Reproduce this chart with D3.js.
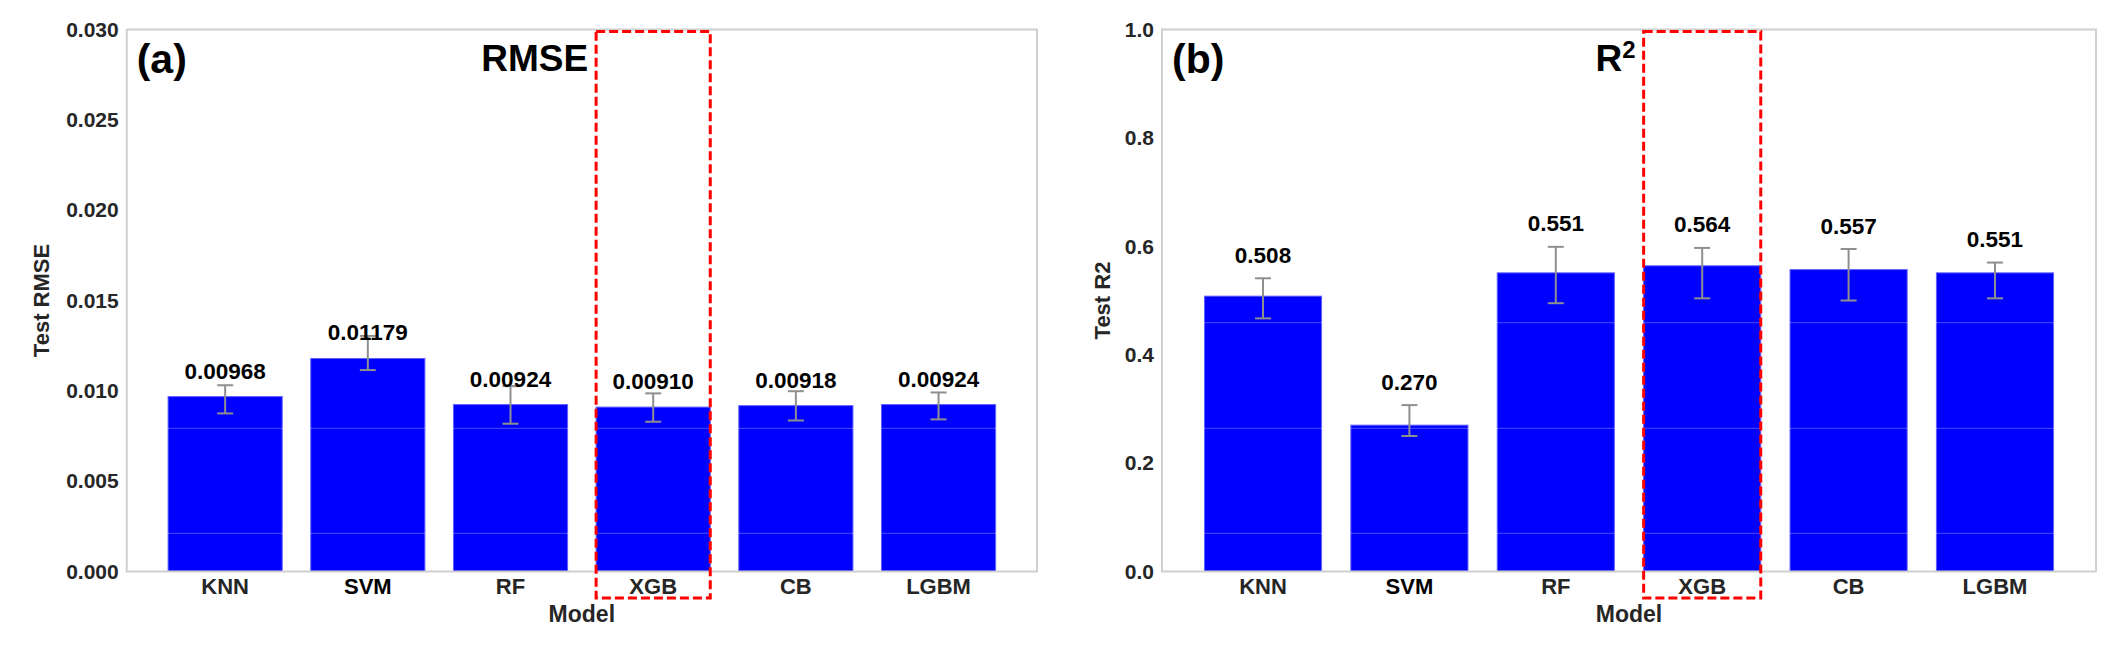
<!DOCTYPE html>
<html>
<head>
<meta charset="utf-8">
<script src="https://cdn.jsdelivr.net/npm/d3@7"></script>
<style>
  body { margin: 0; background: #fff; }
  text { font-family: "Liberation Sans", Arial, sans-serif; font-weight: bold; }
</style>
</head>
<body>
<div id="chart"></div>
<script>
// data
const models = ["KNN", "SVM", "RF", "XGB", "CB", "LGBM"];
const rmse = [0.00968, 0.01179, 0.00924, 0.00910, 0.00918, 0.00924];
const rmseLow = [0.00875, 0.01115, 0.00818, 0.00829, 0.00836, 0.00842];
const rmseHigh = [0.01031, 0.01304, 0.01026, 0.00986, 0.00998, 0.00991];
const r2 = [0.508, 0.270, 0.551, 0.564, 0.557, 0.551];
const r2Low = [0.467, 0.250, 0.495, 0.504, 0.500, 0.504];
const r2High = [0.541, 0.307, 0.599, 0.597, 0.595, 0.570];
const rmseTicks = [0, 0.005, 0.010, 0.015, 0.020, 0.025, 0.030];
const r2Ticks = [0, 0.2, 0.4, 0.6, 0.8, 1.0];
const highlight = "XGB";

const W = 2112, H = 648;

var svg = d3.select("#chart")
  .append("svg")
  .attr("width", W)
  .attr("height", H);

function drawPanel(opts) {
  const top = 29.5, bottom = 571.5;

  const x = d3.scaleBand()
    .domain(models)
    .range([opts.left, opts.right])
    .paddingInner(0.2)
    .paddingOuter(0.29);

  const y = d3.scaleLinear()
    .domain([0, d3.max(opts.ticks)])
    .range([bottom, top]);

  const g = svg.append("g");

  const rows = models.map((m, i) => ({
    model: m, value: opts.values[i], lo: opts.low[i], hi: opts.high[i]
  }));

  // bars
  g.selectAll("rect.bar")
    .data(rows)
    .enter()
    .append("rect")
    .attr("class", "bar")
    .attr("x", d => x(d.model))
    .attr("y", d => y(d.value))
    .attr("width", x.bandwidth())
    .attr("height", d => bottom - y(d.value))
    .style("fill", "#0000ff")
    .style("stroke", "#6060ff")
    .style("stroke-width", 1);

  // faint scan lines that run through the bars in the source image
  g.selectAll("line.scan")
    .data([322.7, 428.3, 533.3])
    .enter()
    .append("line")
    .attr("x1", opts.left).attr("x2", opts.right)
    .attr("y1", d => d).attr("y2", d => d)
    .style("stroke", "#ffffff")
    .style("stroke-opacity", 0.3)
    .style("stroke-width", 1);

  // error bars
  const eb = g.selectAll("g.err")
    .data(rows)
    .enter()
    .append("g")
    .attr("class", "err")
    .attr("transform", d => `translate(${x(d.model) + x.bandwidth() / 2},0)`)
    .style("stroke", "#8f8f8f")
    .style("stroke-width", 2);

  eb.append("line").attr("y1", d => y(d.lo)).attr("y2", d => y(d.hi));
  eb.append("line").attr("x1", -8).attr("x2", 8).attr("y1", d => y(d.lo)).attr("y2", d => y(d.lo));
  eb.append("line").attr("x1", -8).attr("x2", 8).attr("y1", d => y(d.hi)).attr("y2", d => y(d.hi));

  // value labels
  g.selectAll("text.val")
    .data(rows)
    .enter()
    .append("text")
    .attr("class", "val")
    .attr("x", d => x(d.model) + x.bandwidth() / 2)
    .attr("y", d => opts.labelFromErr ? y(d.hi) - 15.5 : y(d.value) - 18)
    .attr("text-anchor", "middle")
    .style("font-size", "22.5px")
    .style("fill", "#000")
    .text(d => opts.fmt(d.value));

  // frame
  g.append("rect")
    .attr("x", opts.left)
    .attr("y", top)
    .attr("width", opts.right - opts.left)
    .attr("height", bottom - top)
    .style("fill", "none")
    .style("stroke", "#cfcfcf")
    .style("stroke-width", 2);

  // axes
  const yAxis = g.append("g")
    .attr("transform", `translate(${opts.left},0)`)
    .call(d3.axisLeft(y).tickValues(opts.ticks).tickFormat(d3.format(opts.tickFmt)).tickSize(0).tickPadding(8));
  yAxis.select(".domain").remove();
  yAxis.selectAll(".tick > text")
    .style("font-size", "21px")
    .style("font-family", '"Liberation Sans", Arial, sans-serif')
    .style("font-weight", "bold")
    .style("fill", "#262626");

  const xAxis = g.append("g")
    .attr("transform", `translate(0,${bottom})`)
    .call(d3.axisBottom(x).tickSize(0).tickPadding(6));
  xAxis.select(".domain").remove();
  xAxis.selectAll(".tick > text")
    .attr("dy", 0)
    .attr("y", 22)
    .style("font-size", "22px")
    .style("font-family", '"Liberation Sans", Arial, sans-serif')
    .style("font-weight", "bold")
    .style("fill", d => d === "SVM" ? "#000" : "#262626");

  // highlight box round XGB
  g.append("rect")
    .attr("x", x(highlight))
    .attr("y", top + 2)
    .attr("width", x.bandwidth())
    .attr("height", 598 - top - 2)
    .style("fill", "none")
    .style("stroke", "#ff0000")
    .style("stroke-width", 3)
    .style("stroke-dasharray", "9,4");

  // axis labels
  g.append("text")
    .attr("transform", `translate(${opts.left - opts.ylabOffset},${(top + bottom) / 2}) rotate(-90)`)
    .attr("text-anchor", "middle")
    .style("font-size", "22px")
    .style("fill", "#262626")
    .text(opts.ylabel);

  g.append("text")
    .attr("x", (opts.left + opts.right) / 2)
    .attr("y", 622)
    .attr("text-anchor", "middle")
    .style("font-size", "23px")
    .style("fill", "#262626")
    .text("Model");

  // panel letter
  g.append("text")
    .attr("x", opts.left + 10)
    .attr("y", 73)
    .style("font-size", "41px")
    .style("fill", "#000")
    .text(opts.letter);

  // metric title, sitting just left of the box
  const title = g.append("text")
    .attr("x", x(highlight) - 8)
    .attr("y", 71)
    .attr("text-anchor", "end")
    .style("font-size", "37px")
    .style("fill", "#000");
  title.append("tspan").text(opts.title);
  if (opts.sup) {
    title.append("tspan")
      .attr("dy", -13)
      .style("font-size", "24px")
      .text(opts.sup);
  }
}

drawPanel({
  left: 126.7, right: 1037,
  values: rmse, low: rmseLow, high: rmseHigh,
  ticks: rmseTicks, tickFmt: ".3f",
  fmt: d3.format(".5f"),
  labelFromErr: false,
  ylabel: "Test RMSE", ylabOffset: 78,
  letter: "(a)", title: "RMSE", sup: null
});

drawPanel({
  left: 1162, right: 2096,
  values: r2, low: r2Low, high: r2High,
  ticks: r2Ticks, tickFmt: ".1f",
  fmt: d3.format(".3f"),
  labelFromErr: true,
  ylabel: "Test R2", ylabOffset: 52,
  letter: "(b)", title: "R", sup: "2"
});
</script>
</body>
</html>
